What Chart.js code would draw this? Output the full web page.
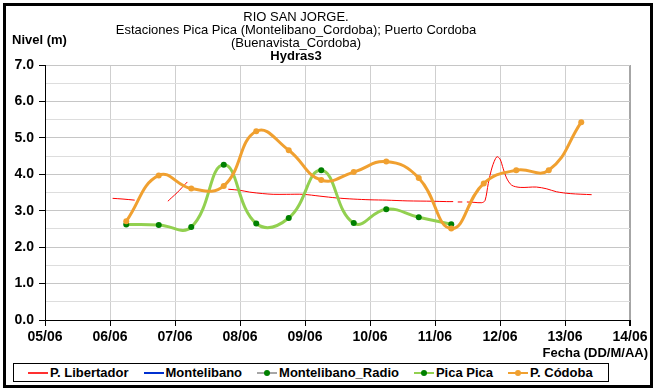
<!DOCTYPE html>
<html>
<head>
<meta charset="utf-8">
<title>Rio San Jorge - niveles</title>
<script src="https://cdn.jsdelivr.net/npm/chart.js@4.4.1/dist/chart.umd.min.js"></script>
<style>
    html, body { margin: 0; padding: 0; background: #fff; }
    #wrap
    {
        position: relative; width: 653px; height: 390px; overflow: hidden;
        font-family: "Liberation Sans", Arial, sans-serif;
    }
    #chart_canvas { position: absolute; left: 0; top: 0; }
    #frame
    {
        position: absolute; left: 3px; top: 3px; width: 644px; height: 379px;
        border: 3px solid #000; pointer-events: none;
    }
    #legend
    {
        position: absolute; left: 13px; top: 363px; width: 596px; height: 19px;
        box-sizing: border-box; border: 1px solid #000; background: #fff;
        display: flex; align-items: center; gap: 15px; padding-left: 14px;
        font-size: 13px; font-weight: bold; color: #000; white-space: nowrap;
    }
    .item { display: flex; align-items: center; }
    .mark { position: relative; width: 20px; height: 2px; margin-right: 2px; }
    .dot
    {
        position: absolute; left: 7px; top: -2px; width: 6px; height: 6px;
        border-radius: 50%;
    }
</style>
</head>
<body>
<div id="wrap">
    <canvas id="chart_canvas" width="653" height="390"></canvas>
    <div id="legend">
        <div class="item"><span class="mark" style="background:#ff3030"></span>P. Libertador</div>
        <div class="item"><span class="mark" style="background:#0030d0"></span>Montelibano</div>
        <div class="item"><span class="mark" style="background:#a6a6a6"><span class="dot" style="background:#008000"></span></span>Montelibano_Radio</div>
        <div class="item"><span class="mark" style="background:#92d050"><span class="dot" style="background:#008000"></span></span>Pica Pica</div>
        <div class="item"><span class="mark" style="background:#f0a030"><span class="dot" style="background:#f0a030"></span></span>P. Códoba</div>
    </div>
    <div id="frame"></div>
</div>
<script>
/* water level chart, Rio San Jorge stations */

const FONT = '"Liberation Sans", Arial, sans-serif';

// x values are days counted from 05/06
const dateLabels = [ '05/06', '06/06', '07/06', '08/06', '09/06', '10/06', '11/06', '12/06', '13/06', '14/06' ];

const titleLines = [ 'RIO SAN JORGE.', 'Estaciones Pica Pica (Montelibano_Cordoba); Puerto Cordoba', '(Buenavista_Cordoba)' ];
const subTitle = 'Hydras3';
const yTitle = 'Nivel (m)';
const xTitle = 'Fecha (DD/M/AA)';

// readings twice a day
const cordobaTimes = [ 1.25, 1.75, 2.25, 2.75, 3.25, 3.75, 4.25, 4.75, 5.25, 5.75, 6.25, 6.75, 7.25, 7.75, 8.25 ];
const cordobaLevels = [ 2.71, 3.97, 3.61, 3.68, 5.18, 4.66, 3.84, 4.06, 4.35, 3.90, 2.51, 3.75, 4.11, 4.11, 5.43 ];

const picaTimes = [ 1.25, 1.75, 2.25, 2.75, 3.25, 3.75, 4.25, 4.75, 5.25, 5.75, 6.25 ];
const picaLevels = [ 2.62, 2.61, 2.55, 4.26, 2.65, 2.80, 4.11, 2.66, 3.04, 2.82, 2.63 ];

// sensor record, null where there are no readings
const libertadorTimes = [
    1.04, 1.20, 1.38, 1.60,
    1.89, 1.95, 2.03, 2.11, 2.19, 2.50,
    2.82, 3.00, 3.15, 3.35, 3.51, 3.72, 3.97, 4.23, 4.49, 4.74, 5.00, 5.26, 5.57, 5.97, 6.18, 6.28, 6.31,
    6.35, 6.42, 6.45,
    6.49, 6.60, 6.72, 6.77, 6.82, 6.88, 6.95, 7.00, 7.05, 7.10, 7.18, 7.31, 7.56, 7.72, 7.87, 8.08, 8.41
];
const libertadorLevels = [
    3.34, 3.32, 3.29, null,
    3.26, 3.36, 3.49, 3.64, 3.79, null,
    3.59, 3.56, 3.51, 3.47, 3.45, 3.45, 3.45, 3.40, 3.35, 3.32, 3.30, 3.29, 3.27, 3.26, 3.25, 3.25, null,
    3.24, 3.24, null,
    3.24, 3.23, 3.22, 3.28, 3.75, 4.20, 4.48, 4.42, 4.15, 3.90, 3.70, 3.64, 3.65, 3.60, 3.52, 3.47, 3.44
];

function to_points ( times, levels )
{
    return times.map( ( t, ii ) => ({ x: t, y: levels[ii] }) );
}

// titles and axis names drawn straight on the canvas
const chartText =
{
    id: 'chartText',
    afterDraw: function ( chart )
    {
        const ctx = chart.ctx;
        ctx.save();
        ctx.fillStyle = '#000';
        ctx.textBaseline = 'middle';

        ctx.textAlign = 'center';
        ctx.font = '13px ' + FONT;
        for ( let ii = 0; ii < titleLines.length; ++ii )
        {
            ctx.fillText( titleLines[ii], 296, 17 + 13 * ii );
        }
        ctx.font = 'bold 13px ' + FONT;
        ctx.fillText( subTitle, 296, 56 );

        ctx.textAlign = 'left';
        ctx.fillText( yTitle, 12, 40 );

        ctx.textAlign = 'right';
        ctx.fillText( xTitle, 648, 353 );
        ctx.restore();
    }
};

const data =
{
    datasets: [
        {
            label: 'P. Libertador',
            data: to_points( libertadorTimes, libertadorLevels ),
            borderColor: '#ff0000',
            borderWidth: 1,
            pointRadius: 0,
            tension: 0.3,
            spanGaps: false,
            order: 5
        },
        {
            label: 'Montelibano',
            data: [],
            borderColor: '#0030d0',
            order: 4
        },
        {
            label: 'Montelibano_Radio',
            data: [],
            borderColor: '#a6a6a6',
            order: 3
        },
        {
            label: 'Pica Pica',
            data: to_points( picaTimes, picaLevels ),
            borderColor: '#92d050',
            borderWidth: 3,
            pointRadius: 3,
            pointBorderWidth: 0,
            pointBackgroundColor: '#008000',
            tension: 0.45,
            order: 2
        },
        {
            label: 'P. Códoba',
            data: to_points( cordobaTimes, cordobaLevels ),
            borderColor: '#f0a030',
            borderWidth: 3,
            pointRadius: 3,
            pointBorderWidth: 0,
            pointBackgroundColor: '#f0a030',
            tension: 0.45,
            order: 1
        }
    ]
};

const options =
{
    responsive: false,
    animation: false,
    devicePixelRatio: 1,
    layout: { padding: { left: 0, top: 65, right: 23, bottom: 0 } },
    scales:
    {
        x:
        {
            type: 'linear', min: 0, max: 9,
            afterFit: function ( s ) { s.height = 70; },
            ticks:
            {
                stepSize: 1, autoSkip: false, maxRotation: 0, padding: 3,
                color: '#000', font: { family: FONT, size: 14, weight: 'bold' },
                callback: ( v ) => dateLabels[v]
            },
            grid:
            {
                color: ( c ) => c.tick && c.tick.value === 9 ? '#a6a6a6' : '#cfcfcf',
                lineWidth: ( c ) => c.tick && c.tick.value === 9 ? 2 : 1,
                tickColor: '#000', tickLength: 6
            },
            border: { color: '#000', width: 1 }
        },
        y:
        {
            min: 0, max: 7,
            afterFit: function ( s ) { s.width = 45; },
            ticks:
            {
                stepSize: 0.5, autoSkip: false, padding: 5,
                color: '#000', font: { family: FONT, size: 14, weight: 'bold' },
                callback: ( v ) => Number.isInteger( v ) ? v.toFixed(1) : ''
            },
            grid:
            {
                color: ( c ) => c.tick && Number.isInteger( c.tick.value ) ? '#c6c6c6' : '#dddddd',
                tickColor: ( c ) => c.tick && Number.isInteger( c.tick.value ) ? '#000' : 'rgba(0,0,0,0)',
                tickLength: 6
            },
            border: { color: '#000', width: 1 }
        }
    },
    plugins:
    {
        legend: { display: false },
        title: { display: false },
        tooltip: { enabled: false }
    }
};

const config = { type: 'line', data: data, options: options, plugins: [ chartText ] };
const chart = new Chart( document.getElementById('chart_canvas'), config );
</script>
</body>
</html>
